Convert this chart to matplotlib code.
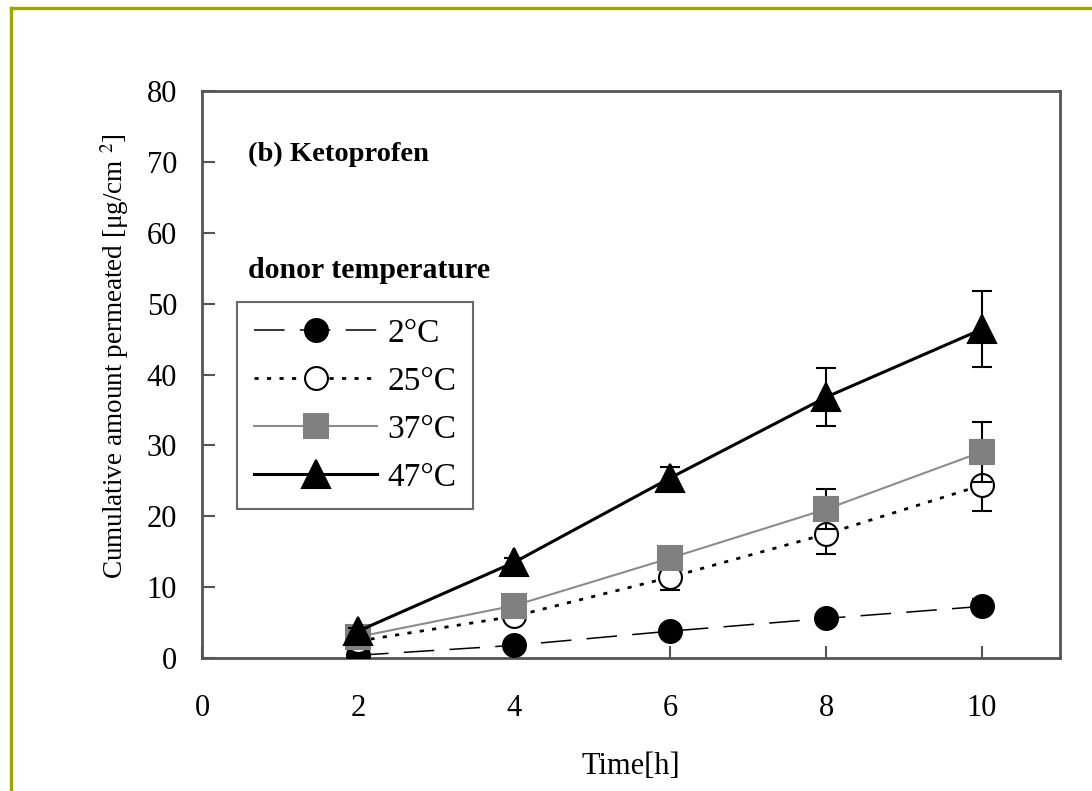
import matplotlib
matplotlib.use("Agg")
import matplotlib.pyplot as plt
from matplotlib.lines import Line2D

plt.rcParams['font.family'] = ['Liberation Serif', 'DejaVu Serif']
plt.rcParams['mathtext.fontset'] = 'stix'

time_h = [2, 4, 6, 8, 10]
labels = ["2°C", "25°C", "37°C", "47°C"]
y_2 = [0.4, 1.8, 3.8, 5.6, 7.3]
e_2 = [0.2, 0.3, 0.5, 0.8, 1.0]
y_25 = [2.4, 5.9, 11.4, 17.5, 24.4]
e_25 = [0.4, 0.8, 1.8, 2.8, 3.7]
y_37 = [3.0, 7.4, 14.1, 21.0, 29.1]
e_37 = [0.4, 0.8, 1.2, 2.8, 4.2]
y_47 = [3.8, 13.5, 25.4, 36.8, 46.4]
e_47 = [0.5, 0.6, 1.6, 4.1, 5.4]
x_ticks = [0, 2, 4, 6, 8, 10]
y_ticks = [0, 10, 20, 30, 40, 50, 60, 70, 80]

fig = plt.figure(figsize=(10.92, 7.91), dpi=100)
ax = fig.add_axes([0.185, 0.168, 0.7857, 0.717])

styles = [
    dict(y=y_2, e=e_2, color='black', ls=(0, (20, 10)), lw=1.1, marker='o', mfc='black', mec='black', ms=16.5),
    dict(y=y_25, e=e_25, color='black', ls=(0, (1.5, 3)), lw=2.0, marker='o', mfc='white', mec='black', ms=16.5),
    dict(y=y_37, e=e_37, color='#8c8c8c', ls='-', lw=1.5, marker='s', mfc='#808080', mec='#808080', ms=17),
    dict(y=y_47, e=e_47, color='black', ls='-', lw=2.2, marker='^', mfc='black', mec='black', ms=20),
]

handles = []
for i, (st, lab) in enumerate(zip(styles, labels)):
    ax.errorbar(time_h, st['y'], yerr=st['e'], fmt='none', ecolor='black',
                elinewidth=1.5, capsize=7.5, capthick=1.5, zorder=2 + i * 2)
    h, = ax.plot(time_h, st['y'], color=st['color'], ls=st['ls'], lw=st['lw'],
                 marker=st['marker'], mfc=st['mfc'], mec=st['mec'], ms=st['ms'],
                 mew=1.5, label=lab, zorder=3 + i * 2)
    handles.append(h)

ax.set_xlim(0, 11)
ax.set_ylim(0, 80)
ax.set_xticks(x_ticks)
ax.set_yticks(y_ticks)
ax.tick_params(axis='both', direction='in', length=9, width=1.5, color='#555555',
               labelsize=22)
ax.tick_params(axis='x', pad=26)
ax.tick_params(axis='y', pad=18)
for s in ax.spines.values():
    s.set_color('#555555')
    s.set_linewidth(2)

ax.set_xlabel("Time[h]", fontsize=22, labelpad=21)
ax.set_ylabel("Cumulative amount permeated [μg/cm $^{2}$]", fontsize=19.5)
ax.yaxis.set_label_coords(-0.083, 0.532)

ax.text(0.59, 71, "(b) Ketoprofen", fontsize=20.5, fontweight='bold', va='center', ha='left')
ax.text(0.59, 54.7, "donor temperature", fontsize=21.5, fontweight='bold', va='center', ha='left')

leg = ax.legend(handles=handles, loc='upper left', bbox_to_anchor=(0.041, 0.628),
                borderaxespad=0, fontsize=24, frameon=True, fancybox=False,
                handlelength=3.7, handletextpad=0.3, labelspacing=0.52,
                borderpad=0.5, edgecolor='#444444')
leg.get_frame().set_linewidth(1.5)

# outer border (top and left visible)
W, H = 1092, 791
fig.add_artist(Line2D([11 / W, 1.0], [1 - 8 / H, 1 - 8 / H], transform=fig.transFigure,
                      color='#9ea400', lw=2.4))
fig.add_artist(Line2D([11 / W, 11 / W], [1 - 8 / H, 0], transform=fig.transFigure,
                      color='#9ea400', lw=2.4))

fig.savefig("out.png", dpi=100)
